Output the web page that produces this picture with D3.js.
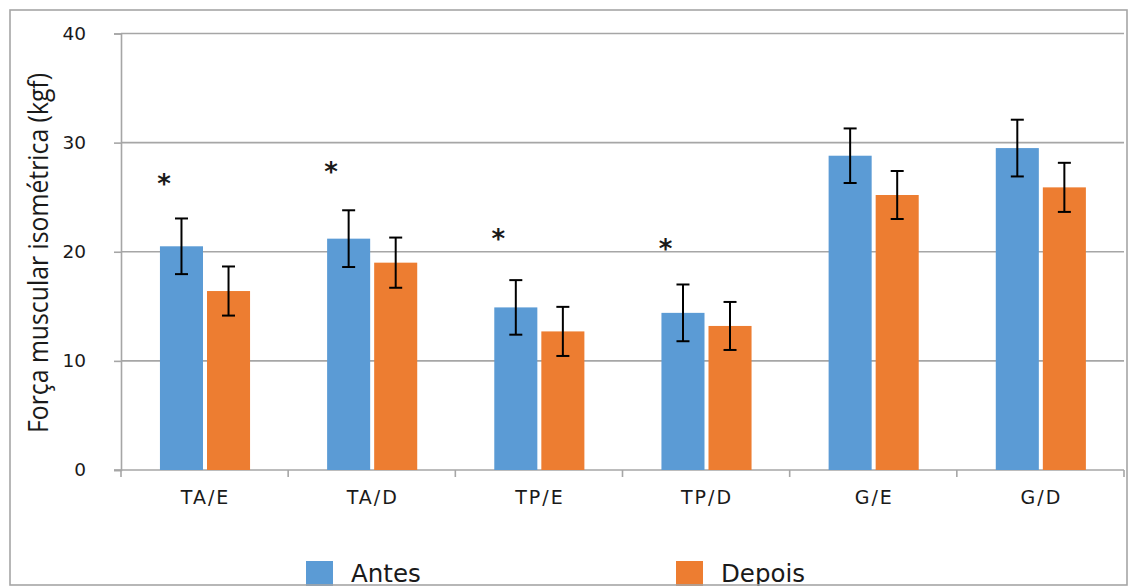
<!DOCTYPE html>
<html>
<head>
<meta charset="utf-8">
<style>
    body { margin: 0; background: #fff; }
    svg text { fill: #1a1a1a; }
</style>
<script src="https://d3js.org/d3.v7.min.js"></script>
</head>
<body>
<div id="chart"></div>
<script>
    // data
    var categories = ["TA/E", "TA/D", "TP/E", "TP/D", "G/E", "G/D"];
    var series = ["Antes", "Depois"];
    var antes = [20.5, 21.2, 14.9, 14.4, 28.8, 29.5];
    var depois = [16.4, 19.0, 12.7, 13.2, 25.2, 25.9];
    var antesErr = [2.55, 2.6, 2.5, 2.6, 2.5, 2.6];
    var depoisErr = [2.25, 2.3, 2.25, 2.2, 2.2, 2.25];
    var stars = [26.8, 27.9, 21.7, 20.8, null, null];   // height of the "*" marks
    var yTicks = [0, 10, 20, 30, 40];
    var colors = ["#5b9bd5", "#ed7d31"];

    var W = 1129, H = 586;
    var plotLeft = 121, plotRight = 1124, plotTop = 33.5, plotBottom = 470;

    var svg = d3.select("#chart").append("svg")
        .attr("width", W)
        .attr("height", H);

    var x0 = d3.scaleBand().domain(categories).range([plotLeft, plotRight]);
    var x1 = d3.scaleBand().domain(series)
        .range([x0.bandwidth() * 0.233, x0.bandwidth() * 0.772])
        .paddingInner(0.085);
    var y = d3.scaleLinear().domain([0, 40]).range([plotBottom, plotTop]);

    // gridlines
    svg.append("g")
        .selectAll("line")
        .data(yTicks.slice(1))
        .enter().append("line")
        .attr("x1", plotLeft).attr("x2", plotRight)
        .attr("y1", function (d) { return y(d); })
        .attr("y2", function (d) { return y(d); })
        .attr("stroke", "#a6a6a6")
        .attr("stroke-width", 1.6);

    // y axis
    var yAxis = svg.append("g")
        .attr("transform", "translate(" + plotLeft + ",0)")
        .call(d3.axisLeft(y).tickValues(yTicks).tickSize(7).tickPadding(28));
    yAxis.select(".domain").attr("stroke", "#a6a6a6").attr("stroke-width", 1.6);
    yAxis.selectAll(".tick line").attr("stroke", "#a6a6a6").attr("stroke-width", 1.6);
    yAxis.selectAll(".tick text")
        .style("font-family", "DejaVu Sans")
        .style("font-size", "18.5px")
        .attr("fill", "#1a1a1a");

    // x axis
    var boundaries = categories.map(function (c) { return x0(c); }).concat([plotRight]);
    var xAxis = svg.append("g");
    xAxis.append("line")
        .attr("x1", plotLeft - 7).attr("x2", plotRight)
        .attr("y1", plotBottom).attr("y2", plotBottom)
        .attr("stroke", "#a6a6a6").attr("stroke-width", 1.6);
    xAxis.selectAll(".xt")
        .data(boundaries)
        .enter().append("line")
        .attr("x1", function (d) { return d; }).attr("x2", function (d) { return d; })
        .attr("y1", plotBottom).attr("y2", plotBottom + 7)
        .attr("stroke", "#a6a6a6").attr("stroke-width", 1.6);
    xAxis.selectAll("text")
        .data(categories)
        .enter().append("text")
        .attr("x", function (d) { return x0(d) + x0.bandwidth() / 2 + 1; })
        .attr("y", 504)
        .attr("text-anchor", "middle")
        .style("font-family", "DejaVu Sans")
        .style("font-size", "19px")
        .style("letter-spacing", "2px")
        .text(function (d) { return d; });

    // bars
    var rows = categories.map(function (c, i) {
        return { cat: c, vals: [antes[i], depois[i]], errs: [antesErr[i], depoisErr[i]], star: stars[i] };
    });

    var groups = svg.append("g")
        .selectAll("g")
        .data(rows)
        .enter().append("g")
        .attr("transform", function (d) { return "translate(" + x0(d.cat) + ",0)"; });

    groups.selectAll("rect")
        .data(function (d) { return d.vals.map(function (v, k) { return { s: series[k], v: v, k: k }; }); })
        .enter().append("rect")
        .attr("x", function (d) { return x1(d.s); })
        .attr("width", x1.bandwidth())
        .attr("y", function (d) { return y(d.v); })
        .attr("height", function (d) { return y(0) - y(d.v); })
        .attr("fill", function (d) { return colors[d.k]; });

    // error bars
    var eb = groups.selectAll(".err")
        .data(function (d) { return d.vals.map(function (v, k) { return { s: series[k], v: v, e: d.errs[k] }; }); })
        .enter().append("g")
        .attr("class", "err")
        .attr("stroke", "#000")
        .attr("stroke-width", 2);
    eb.append("line")
        .attr("x1", function (d) { return x1(d.s) + x1.bandwidth() / 2; })
        .attr("x2", function (d) { return x1(d.s) + x1.bandwidth() / 2; })
        .attr("y1", function (d) { return y(d.v + d.e); })
        .attr("y2", function (d) { return y(d.v - d.e); });
    eb.selectAll(".cap")
        .data(function (d) { return [d.v + d.e, d.v - d.e].map(function (t) { return { s: d.s, t: t }; }); })
        .enter().append("line")
        .attr("x1", function (d) { return x1(d.s) + x1.bandwidth() / 2 - 6.5; })
        .attr("x2", function (d) { return x1(d.s) + x1.bandwidth() / 2 + 6.5; })
        .attr("y1", function (d) { return y(d.t); })
        .attr("y2", function (d) { return y(d.t); });

    // significance marks
    groups.filter(function (d) { return d.star != null; })
        .append("text")
        .attr("x", x1("Antes") + 4)
        .attr("y", function (d) { return y(d.star) + 15; })
        .attr("text-anchor", "middle")
        .style("font-family", "DejaVu Sans")
        .style("font-weight", "bold")
        .style("font-size", "26px")
        .text("*");

    // y title
    svg.append("text")
        .attr("transform", "translate(48,253) scale(1.15,1) rotate(-90)")
        .attr("text-anchor", "middle")
        .style("font-family", "Open Sans")
        .style("font-size", "24.5px")
        .attr("textLength", 360)
        .attr("lengthAdjust", "spacingAndGlyphs")
        .text("Força muscular isométrica (kgf)");

    // legend
    var legX = [306, 676];
    var leg = svg.append("g")
        .selectAll("g")
        .data(series)
        .enter().append("g")
        .attr("transform", function (d, i) { return "translate(" + legX[i] + ",561)"; });
    leg.append("rect")
        .attr("width", 27).attr("height", 27)
        .attr("fill", function (d, i) { return colors[i]; });
    leg.append("text")
        .attr("x", 45).attr("y", 21)
        .style("font-family", "DejaVu Sans")
        .style("font-size", "24.5px")
        .text(function (d) { return d; });

    // outer frame
    svg.append("rect")
        .attr("x", 10).attr("y", 10)
        .attr("width", 1117).attr("height", 575)
        .attr("fill", "none")
        .attr("stroke", "#a6a6a6")
        .attr("stroke-width", 1.6);
</script>
</body>
</html>
